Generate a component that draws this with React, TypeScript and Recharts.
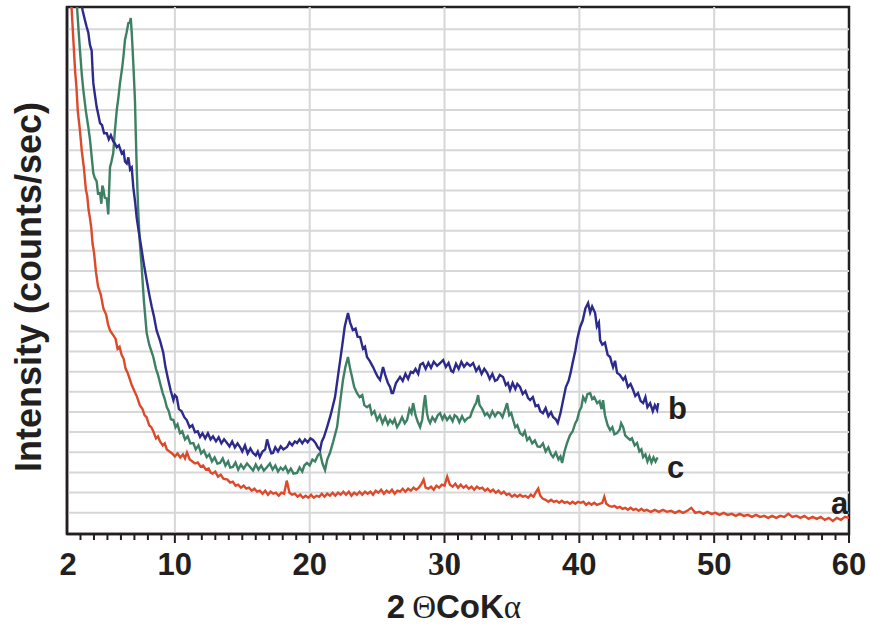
import React from "react";
import {
  LineChart,
  Line,
  XAxis,
  YAxis,
  ReferenceLine,
  ReferenceArea,
  ReferenceDot,
} from "recharts";

// 2-theta (deg) vs intensity, intensity in grid units
const SAMPLE_A: [number, number][] = [
  [2.0, 29], [2.2, 27.2], [2.35, 26], [2.5, 24.2], [2.6, 23.0], [2.7, 22.2], [2.8, 21.0], [2.95, 20.1],
  [3.1, 19.0], [3.25, 18.2], [3.4, 17.1], [3.5, 16.8], [3.6, 16.1], [3.7, 15.7], [3.8, 15.2], [3.9, 14.4],
  [4.0, 14.0], [4.15, 13.0], [4.3, 12.3], [4.5, 11.9], [4.7, 11.2], [4.9, 10.9], [5.05, 10.4], [5.2, 10.1],
  [5.4, 9.9], [5.6, 9.7], [5.75, 9.2], [5.9, 9.3], [6.05, 8.9], [6.2, 8.7], [6.35, 8.2], [6.5, 8.0],
  [6.65, 7.7], [6.8, 7.4], [7.0, 7.1], [7.2, 6.8], [7.4, 6.4], [7.6, 6.2], [7.75, 5.9], [7.9, 5.8],
  [8.1, 5.4], [8.25, 5.3], [8.4, 5.1], [8.6, 4.75], [8.75, 4.85], [8.9, 4.6], [9.1, 4.4], [9.25, 4.5],
  [9.4, 4.2], [9.6, 4.1], [9.8, 4.0], [10.0, 3.85], [10.2, 4.0], [10.4, 3.8], [10.6, 3.95], [10.75, 3.75],
  [10.9, 4.05], [11.1, 3.7], [11.3, 3.6], [11.5, 3.5], [11.7, 3.55], [11.9, 3.35], [12.1, 3.4], [12.3, 3.2],
  [12.5, 3.25], [12.65, 3.05], [12.8, 3.0], [13.0, 3.1], [13.2, 2.85], [13.4, 2.95], [13.6, 2.75], [13.9, 2.7],
  [14.1, 2.55], [14.3, 2.6], [14.5, 2.4], [14.7, 2.45], [14.9, 2.3], [15.1, 2.4], [15.3, 2.25], [15.5, 2.3],
  [15.7, 2.15], [15.9, 2.25], [16.1, 2.1], [16.3, 2.15], [16.5, 2.0], [16.7, 2.15], [16.9, 1.95], [17.1, 2.1],
  [17.3, 2.0], [17.5, 2.05], [17.7, 1.9], [17.9, 2.05], [18.1, 2.0], [18.3, 2.65], [18.5, 2.05], [18.7, 1.95],
  [18.9, 2.0], [19.1, 1.85], [19.3, 1.95], [19.5, 1.8], [19.7, 1.9], [19.9, 1.8], [20.1, 1.95], [20.3, 1.8],
  [20.5, 1.9], [20.7, 1.85], [20.9, 2.0], [21.1, 1.85], [21.3, 2.0], [21.5, 1.9], [21.7, 2.05], [21.9, 1.9],
  [22.1, 2.05], [22.3, 1.95], [22.5, 2.1], [22.7, 1.95], [22.9, 2.1], [23.1, 1.9], [23.3, 2.05], [23.5, 1.95],
  [23.7, 2.1], [23.9, 1.95], [24.1, 2.1], [24.3, 2.0], [24.5, 2.1], [24.7, 1.95], [24.9, 2.15], [25.1, 2.05],
  [25.3, 2.2], [25.5, 2.0], [25.7, 2.15], [25.9, 2.05], [26.1, 2.2], [26.3, 2.0], [26.5, 2.15], [26.7, 2.1],
  [26.9, 2.25], [27.1, 2.1], [27.3, 2.25], [27.5, 2.15], [27.7, 2.3], [27.9, 2.2], [28.1, 2.3], [28.3, 2.5],
  [28.45, 2.7], [28.6, 2.3], [28.8, 2.25], [29.0, 2.35], [29.2, 2.2], [29.4, 2.4], [29.6, 2.3], [29.8, 2.45],
  [30.0, 2.4], [30.2, 2.85], [30.4, 2.45], [30.6, 2.35], [30.8, 2.5], [31.0, 2.3], [31.2, 2.45], [31.4, 2.3],
  [31.6, 2.4], [31.8, 2.25], [32.0, 2.35], [32.2, 2.2], [32.4, 2.35], [32.6, 2.25], [32.8, 2.3], [33.0, 2.15],
  [33.2, 2.25], [33.4, 2.1], [33.6, 2.2], [33.8, 2.05], [34.0, 2.15], [34.2, 2.0], [34.4, 2.1], [34.6, 1.95],
  [34.8, 2.0], [35.0, 1.85], [35.2, 1.95], [35.4, 1.85], [35.6, 1.95], [35.8, 1.85], [36.0, 1.9], [36.2, 1.8],
  [36.4, 1.95], [36.6, 1.85], [36.8, 2.1], [36.95, 2.25], [37.1, 1.9], [37.3, 1.75], [37.5, 1.7], [37.7, 1.6],
  [37.9, 1.7], [38.1, 1.6], [38.3, 1.65], [38.5, 1.55], [38.7, 1.65], [38.9, 1.55], [39.1, 1.6], [39.3, 1.5],
  [39.5, 1.6], [39.7, 1.5], [39.9, 1.6], [40.1, 1.55], [40.3, 1.6], [40.5, 1.45], [40.7, 1.55], [40.9, 1.45],
  [41.1, 1.55], [41.3, 1.45], [41.5, 1.5], [41.7, 1.55], [41.85, 1.85], [42.0, 1.5], [42.2, 1.4], [42.4, 1.35],
  [42.6, 1.4], [42.8, 1.3], [43.0, 1.35], [43.2, 1.25], [43.4, 1.3], [43.6, 1.2], [43.8, 1.3], [44.0, 1.2],
  [44.2, 1.25], [44.4, 1.15], [44.6, 1.25], [44.8, 1.15], [45.0, 1.2], [45.3, 1.1], [45.6, 1.2], [45.9, 1.1],
  [46.2, 1.2], [46.5, 1.1], [46.8, 1.15], [47.1, 1.05], [47.4, 1.15], [47.7, 1.05], [48.0, 1.15], [48.3, 1.3],
  [48.6, 1.05], [48.9, 1.1], [49.2, 1.0], [49.5, 1.1], [49.8, 1.0], [50.1, 1.05], [50.4, 0.95], [50.7, 1.05],
  [51.0, 0.95], [51.3, 1.0], [51.6, 0.9], [51.9, 1.0], [52.2, 0.9], [52.5, 0.95], [52.8, 0.85], [53.1, 0.95],
  [53.4, 0.85], [53.7, 0.9], [54.0, 0.8], [54.3, 0.9], [54.6, 0.8], [54.9, 0.9], [55.2, 0.85], [55.5, 1.0],
  [55.8, 0.85], [56.1, 0.9], [56.4, 0.8], [56.7, 0.9], [57.0, 0.75], [57.3, 0.85], [57.6, 0.75], [57.9, 0.85],
  [58.2, 0.7], [58.5, 0.8], [58.8, 0.65], [59.1, 0.8], [59.4, 0.7], [59.7, 0.85], [60.0, 0.8],
];

const SAMPLE_B: [number, number][] = [
  [2.7, 28.5], [2.9, 27.2], [3.05, 26.4], [3.16, 26.0], [3.3, 25.6], [3.45, 25.2], [3.58, 24.9], [3.7, 24.3],
  [3.83, 24.0], [3.9, 23.0], [3.95, 22.4], [4.05, 21.9], [4.2, 21.2], [4.3, 20.9], [4.45, 20.4], [4.6, 20.3],
  [4.75, 19.9], [4.95, 19.9], [5.1, 19.6], [5.25, 19.8], [5.43, 19.5], [5.55, 19.4], [5.69, 19.2], [5.85, 19.3],
  [6.06, 18.9], [6.2, 19.0], [6.3, 18.5], [6.43, 18.4], [6.55, 18.7], [6.68, 18.1], [6.8, 18.2], [6.92, 17.2],
  [7.05, 16.5], [7.17, 15.7], [7.35, 14.9], [7.54, 14.1], [7.7, 13.4], [7.91, 12.6], [8.1, 11.9], [8.28, 11.3],
  [8.45, 10.8], [8.65, 10.1], [8.9, 9.6], [9.14, 9.0], [9.3, 8.3], [9.51, 7.65], [9.7, 7.1], [9.89, 6.65],
  [10.0, 6.9], [10.14, 6.8], [10.3, 6.2], [10.5, 6.1], [10.7, 5.8], [10.88, 5.66], [11.1, 5.3], [11.3, 5.4],
  [11.5, 5.05], [11.7, 5.1], [11.87, 4.82], [12.05, 5.0], [12.25, 4.75], [12.45, 5.0], [12.65, 4.7], [12.83, 4.85],
  [13.05, 4.6], [13.25, 4.8], [13.45, 4.5], [13.65, 4.7], [13.87, 4.52], [14.05, 4.35], [14.25, 4.6], [14.45, 4.3],
  [14.65, 4.5], [14.83, 4.32], [15.0, 4.1], [15.2, 4.4], [15.4, 4.0], [15.6, 4.25], [15.8, 4.02], [16.0, 3.9],
  [16.15, 4.1], [16.3, 3.82], [16.5, 4.1], [16.7, 4.2], [16.84, 4.7], [17.0, 4.3], [17.15, 4.0], [17.28, 4.02],
  [17.45, 4.3], [17.65, 4.1], [17.85, 4.35], [18.05, 4.2], [18.32, 4.32], [18.5, 4.55], [18.7, 4.4], [18.9, 4.6],
  [19.06, 4.52], [19.25, 4.7], [19.45, 4.5], [19.65, 4.7], [19.85, 4.55], [20.05, 4.75], [20.25, 4.67], [20.45, 4.5],
  [20.6, 4.3], [20.77, 4.17], [20.9, 4.6], [21.05, 4.8], [21.29, 5.31], [21.55, 5.9], [21.88, 6.8], [22.15, 8.1],
  [22.4, 9.29], [22.6, 10.3], [22.84, 10.97], [23.0, 10.5], [23.2, 10.13], [23.4, 10.2], [23.55, 9.8], [23.74, 9.78],
  [23.95, 9.2], [24.1, 9.3], [24.25, 8.79], [24.45, 8.6], [24.7, 8.29], [24.9, 8.0], [25.05, 7.8], [25.22, 7.65],
  [25.44, 8.29], [25.6, 7.9], [25.8, 7.5], [25.96, 7.3], [26.08, 7.0], [26.18, 7.0], [26.4, 7.5], [26.7, 7.8],
  [26.9, 7.6], [27.1, 7.95], [27.3, 7.7], [27.5, 8.05], [27.67, 8.0], [27.85, 8.2], [28.05, 7.95], [28.2, 8.4],
  [28.4, 8.49], [28.6, 8.2], [28.8, 8.5], [29.0, 8.25], [29.2, 8.55], [29.45, 8.35], [29.67, 8.49], [29.9, 8.64],
  [30.1, 8.3], [30.3, 8.5], [30.5, 8.1], [30.64, 8.04], [30.85, 8.45], [31.05, 8.2], [31.25, 8.55], [31.45, 8.3],
  [31.67, 8.49], [31.9, 8.35], [32.12, 8.49], [32.35, 8.1], [32.55, 8.3], [32.75, 7.95], [32.95, 8.2], [33.16, 8.0],
  [33.35, 7.7], [33.55, 7.95], [33.75, 7.6], [33.9, 7.65], [34.1, 7.9], [34.34, 7.8], [34.55, 7.4], [34.7, 7.5],
  [34.86, 7.15], [35.05, 7.5], [35.25, 7.2], [35.4, 7.45], [35.6, 7.3], [35.8, 6.95], [36.0, 7.1], [36.2, 6.75],
  [36.35, 6.65], [36.55, 6.8], [36.75, 6.35], [36.95, 6.4], [37.1, 6.1], [37.3, 6.0], [37.5, 6.25], [37.7, 5.85],
  [37.9, 6.05], [38.05, 5.81], [38.25, 5.7], [38.4, 5.51], [38.6, 6.0], [38.8, 6.65], [39.0, 7.3], [39.2, 7.6],
  [39.35, 8.0], [39.5, 8.49], [39.7, 9.1], [39.85, 9.7], [40.06, 10.28], [40.25, 10.6], [40.45, 11.2], [40.65, 11.47],
  [40.8, 11.0], [40.95, 11.3], [41.17, 10.97], [41.3, 10.3], [41.45, 10.5], [41.54, 9.63], [41.7, 9.4], [41.9, 9.5],
  [42.1, 8.9], [42.28, 8.79], [42.4, 8.5], [42.5, 8.29], [42.65, 8.6], [42.8, 8.0], [43.0, 7.9], [43.25, 7.65],
  [43.4, 7.8], [43.6, 7.3], [43.8, 7.45], [43.99, 7.15], [44.15, 6.85], [44.35, 7.0], [44.55, 6.6], [44.73, 6.5],
  [44.9, 6.8], [45.05, 6.3], [45.25, 6.5], [45.45, 6.1], [45.6, 6.4], [45.77, 6.16], [45.85, 6.5],
];

const SAMPLE_C: [number, number][] = [
  [2.6, 28.5], [2.76, 26.0], [2.86, 25.0], [2.96, 24.03], [3.1, 22.8], [3.21, 22.05], [3.4, 21.0], [3.58, 20.21],
  [3.71, 19.56], [3.85, 18.6], [3.95, 17.92], [4.05, 17.7], [4.2, 17.51], [4.3, 16.9], [4.45, 16.93], [4.55, 16.4],
  [4.62, 17.3], [4.69, 17.16], [4.8, 16.7], [4.95, 16.66], [5.06, 15.87], [5.12, 17.0], [5.19, 18.22], [5.3, 18.5],
  [5.43, 18.92], [5.55, 20.0], [5.69, 21.05], [5.8, 21.6], [5.93, 22.39], [6.1, 23.2], [6.2, 23.8], [6.3, 24.53],
  [6.42, 24.9], [6.55, 25.37], [6.65, 25.4], [6.73, 25.62], [6.8, 24.9], [6.87, 24.03], [6.95, 22.9], [7.04, 21.55],
  [7.1, 19.9], [7.17, 18.22], [7.23, 17.0], [7.29, 15.94], [7.4, 14.5], [7.54, 13.26], [7.7, 11.6], [7.91, 9.98],
  [8.1, 9.4], [8.25, 9.1], [8.4, 8.79], [8.6, 8.2], [8.75, 7.9], [8.9, 7.5], [9.1, 7.0], [9.25, 6.7],
  [9.4, 6.3], [9.55, 6.1], [9.7, 5.7], [9.89, 5.66], [10.05, 5.3], [10.2, 5.45], [10.38, 5.01], [10.55, 5.1],
  [10.75, 4.7], [10.95, 4.85], [11.15, 4.5], [11.37, 4.52], [11.55, 4.2], [11.75, 4.4], [11.95, 4.0], [12.15, 4.15],
  [12.36, 3.82], [12.55, 3.95], [12.75, 3.6], [12.95, 3.8], [13.15, 3.5], [13.35, 3.53], [13.55, 3.75], [13.75, 3.4],
  [13.95, 3.6], [14.1, 3.3], [14.3, 3.33], [14.5, 3.55], [14.7, 3.2], [14.9, 3.45], [15.1, 3.25], [15.35, 3.5],
  [15.58, 3.33], [15.8, 3.15], [16.0, 3.45], [16.2, 3.2], [16.4, 3.4], [16.6, 3.15], [16.84, 3.33], [17.05, 3.5],
  [17.25, 3.2], [17.45, 3.4], [17.65, 3.1], [17.85, 3.3], [18.02, 3.18], [18.2, 3.35], [18.4, 3.05], [18.6, 3.25],
  [18.8, 3.0], [19.06, 3.03], [19.25, 3.3], [19.45, 3.1], [19.6, 3.4], [19.8, 3.53], [20.0, 3.4], [20.2, 3.7],
  [20.4, 3.6], [20.6, 3.9], [20.77, 4.02], [20.95, 3.5], [21.14, 3.18], [21.3, 3.7], [21.5, 4.02], [21.75, 4.6],
  [22.03, 5.31], [22.25, 6.5], [22.47, 7.65], [22.65, 8.3], [22.84, 8.79], [23.0, 8.2], [23.14, 7.8], [23.3, 7.3],
  [23.5, 7.0], [23.7, 6.8], [23.9, 6.9], [24.05, 6.4], [24.25, 6.3], [24.45, 6.4], [24.6, 5.95], [24.8, 6.1],
  [25.0, 5.66], [25.2, 5.9], [25.4, 5.5], [25.6, 5.8], [25.8, 5.45], [25.96, 5.66], [26.15, 5.5], [26.3, 5.7],
  [26.48, 5.31], [26.65, 5.5], [26.85, 5.8], [27.05, 5.5], [27.22, 5.66], [27.4, 6.2], [27.55, 6.0], [27.67, 6.5],
  [27.85, 5.9], [28.0, 5.6], [28.19, 5.31], [28.35, 5.7], [28.46, 6.4], [28.56, 6.9], [28.7, 6.0], [28.8, 5.7],
  [28.93, 5.51], [29.1, 5.8], [29.3, 5.6], [29.5, 5.9], [29.67, 6.0], [29.85, 5.7], [30.0, 5.9], [30.19, 5.66],
  [30.4, 5.85], [30.6, 5.6], [30.75, 5.9], [30.93, 5.81], [31.1, 5.55], [31.3, 5.85], [31.5, 5.6], [31.7, 5.75],
  [31.9, 5.81], [32.05, 6.1], [32.25, 6.4], [32.35, 6.5], [32.49, 6.9], [32.6, 6.4], [32.8, 6.2], [33.0, 5.9],
  [33.16, 6.0], [33.35, 5.8], [33.55, 6.1], [33.75, 5.85], [33.95, 6.05], [34.12, 6.0], [34.3, 5.8], [34.5, 6.2],
  [34.64, 6.5], [34.8, 5.9], [34.95, 6.0], [35.09, 5.66], [35.25, 5.3], [35.4, 5.4], [35.6, 5.01], [35.8, 4.9],
  [35.95, 5.1], [36.13, 4.67], [36.3, 4.8], [36.5, 4.5], [36.7, 4.65], [36.9, 4.35], [37.09, 4.32], [37.3, 4.5],
  [37.5, 4.1], [37.7, 4.3], [37.9, 3.95], [38.05, 3.82], [38.25, 4.05], [38.45, 3.7], [38.6, 3.85], [38.72, 3.53],
  [38.9, 4.1], [39.09, 4.52], [39.3, 4.9], [39.5, 5.1], [39.7, 5.5], [39.83, 5.66], [40.0, 6.1], [40.15, 6.3],
  [40.28, 6.8], [40.45, 6.6], [40.6, 6.95], [40.8, 7.0], [40.95, 6.7], [41.1, 6.8], [41.32, 6.5], [41.5, 6.6],
  [41.65, 6.2], [41.76, 6.65], [41.9, 5.9], [42.1, 5.4], [42.28, 5.16], [42.45, 5.3], [42.6, 4.95], [42.8, 5.01],
  [43.0, 5.2], [43.1, 5.5], [43.25, 5.31], [43.4, 4.9], [43.55, 4.8], [43.76, 4.67], [43.9, 4.75], [44.1, 4.4],
  [44.28, 4.52], [44.45, 4.1], [44.6, 4.2], [44.73, 3.82], [44.9, 3.95], [45.05, 3.6], [45.2, 3.85], [45.35, 3.55],
  [45.5, 3.8], [45.65, 3.6], [45.8, 3.8],
];

const X_MAJOR = [2, 10, 20, 30, 40, 50, 60];
const X_MINOR = Array.from({ length: 59 }, (_, i) => i + 2);
const X_GRID = [10, 20, 30, 40, 50];
const Y_MAX = 26.17;
const Y_GRID = Array.from({ length: 25 }, (_, i) => 1.06 + i);

const toPoints = (arr: [number, number][]) => arr.map(([x, y]) => ({ x, y }));
const dataA = toPoints(SAMPLE_A);
const dataB = toPoints(SAMPLE_B);
const dataC = toPoints(SAMPLE_C);

const SANS = "'Liberation Sans', Arial, sans-serif";
const SERIF = "'Liberation Serif', 'Times New Roman', 'DejaVu Serif', serif";
const INK = "#231f20";
const GRID = "#d7d7d7";

function XTick(props: any) {
  const { x, y, payload } = props;
  const v = Number(payload.value);
  const major = X_MAJOR.includes(v);
  const serif = v === 30;
  return (
    <g>
      {v !== 2 && (
        <line x1={x} x2={x} y1={y} y2={y + (major ? 9 : 6)} stroke={INK} strokeWidth={2} />
      )}
      {major && (
        <text
          x={v === 2 ? x + 1 : x}
          y={y + 41}
          textAnchor="middle"
          fill={INK}
          fontFamily={serif ? SERIF : SANS}
          fontWeight={700}
          fontSize={serif ? 33 : 31}
        >
          {String(v)}
        </text>
      )}
    </g>
  );
}

const seriesLabel = {
  fill: INK,
  fontFamily: SANS,
  fontWeight: "bold",
  fontSize: 31,
};

export default function App() {
  return (
    <div>
      <style>{`body{margin:0;background:#fff}`}</style>
      <LineChart
        width={870}
        height={627}
        margin={{ top: 7, right: 21, left: 0, bottom: 0 }}
      >
        {Y_GRID.map((g) => (
          <ReferenceLine key={`h${g}`} y={g} stroke={GRID} strokeWidth={2} />
        ))}
        {X_GRID.map((g) => (
          <ReferenceLine key={`v${g}`} x={g} stroke={GRID} strokeWidth={2} />
        ))}
        <XAxis
          type="number"
          dataKey="x"
          domain={[2, 60]}
          allowDataOverflow
          ticks={X_MINOR}
          interval={0}
          tickSize={0}
          tickMargin={0}
          tickLine={false}
          tick={<XTick />}
          height={93}
          axisLine={{ stroke: INK, strokeWidth: 2.5 }}
          label={{
            content: () => (
              <text x={454} y={618} textAnchor="middle" fill={INK} fontSize={33}>
                <tspan fontFamily={SANS} fontWeight={700}>2</tspan>
                <tspan fontFamily={SERIF} fontWeight={400} dx={7}>Θ</tspan>
                <tspan fontFamily={SANS} fontWeight={700}>CoK</tspan>
                <tspan fontFamily={SERIF} fontWeight={400}>α</tspan>
              </text>
            ),
          }}
        />
        <YAxis
          type="number"
          domain={[0, Y_MAX]}
          allowDataOverflow
          ticks={Y_GRID}
          tick={false}
          tickLine={false}
          width={67}
          axisLine={{ stroke: INK, strokeWidth: 2.5 }}
          label={{
            content: () => (
              <text
                x={0}
                y={0}
                transform="translate(41 287) rotate(-90)"
                textAnchor="middle"
                fill={INK}
                fontFamily={SANS}
                fontWeight={700}
                fontSize={36}
              >
                Intensity (counts/sec)
              </text>
            ),
          }}
        />
        <Line
          data={dataA}
          dataKey="y"
          type="linear"
          stroke="#dc4a2b"
          strokeWidth={2.4}
          dot={false}
          isAnimationActive={false}
        />
        <Line
          data={dataC}
          dataKey="y"
          type="linear"
          stroke="#3e8064"
          strokeWidth={2.4}
          dot={false}
          isAnimationActive={false}
        />
        <Line
          data={dataB}
          dataKey="y"
          type="linear"
          stroke="#2c2a8a"
          strokeWidth={2.4}
          dot={false}
          isAnimationActive={false}
        />
        <ReferenceArea
          x1={2}
          x2={60}
          y1={0}
          y2={Y_MAX}
          fill="none"
          stroke={INK}
          strokeWidth={2.5}
        />
        <ReferenceDot x={46.58} y={6.26} r={0} label={{ value: "b", position: "right", offset: 0, ...seriesLabel }} />
        <ReferenceDot x={46.5} y={3.33} r={0} label={{ value: "c", position: "right", offset: 0, ...seriesLabel }} />
        <ReferenceDot x={58.67} y={1.54} r={0} label={{ value: "a", position: "right", offset: 0, ...seriesLabel }} />
      </LineChart>
    </div>
  );
}
